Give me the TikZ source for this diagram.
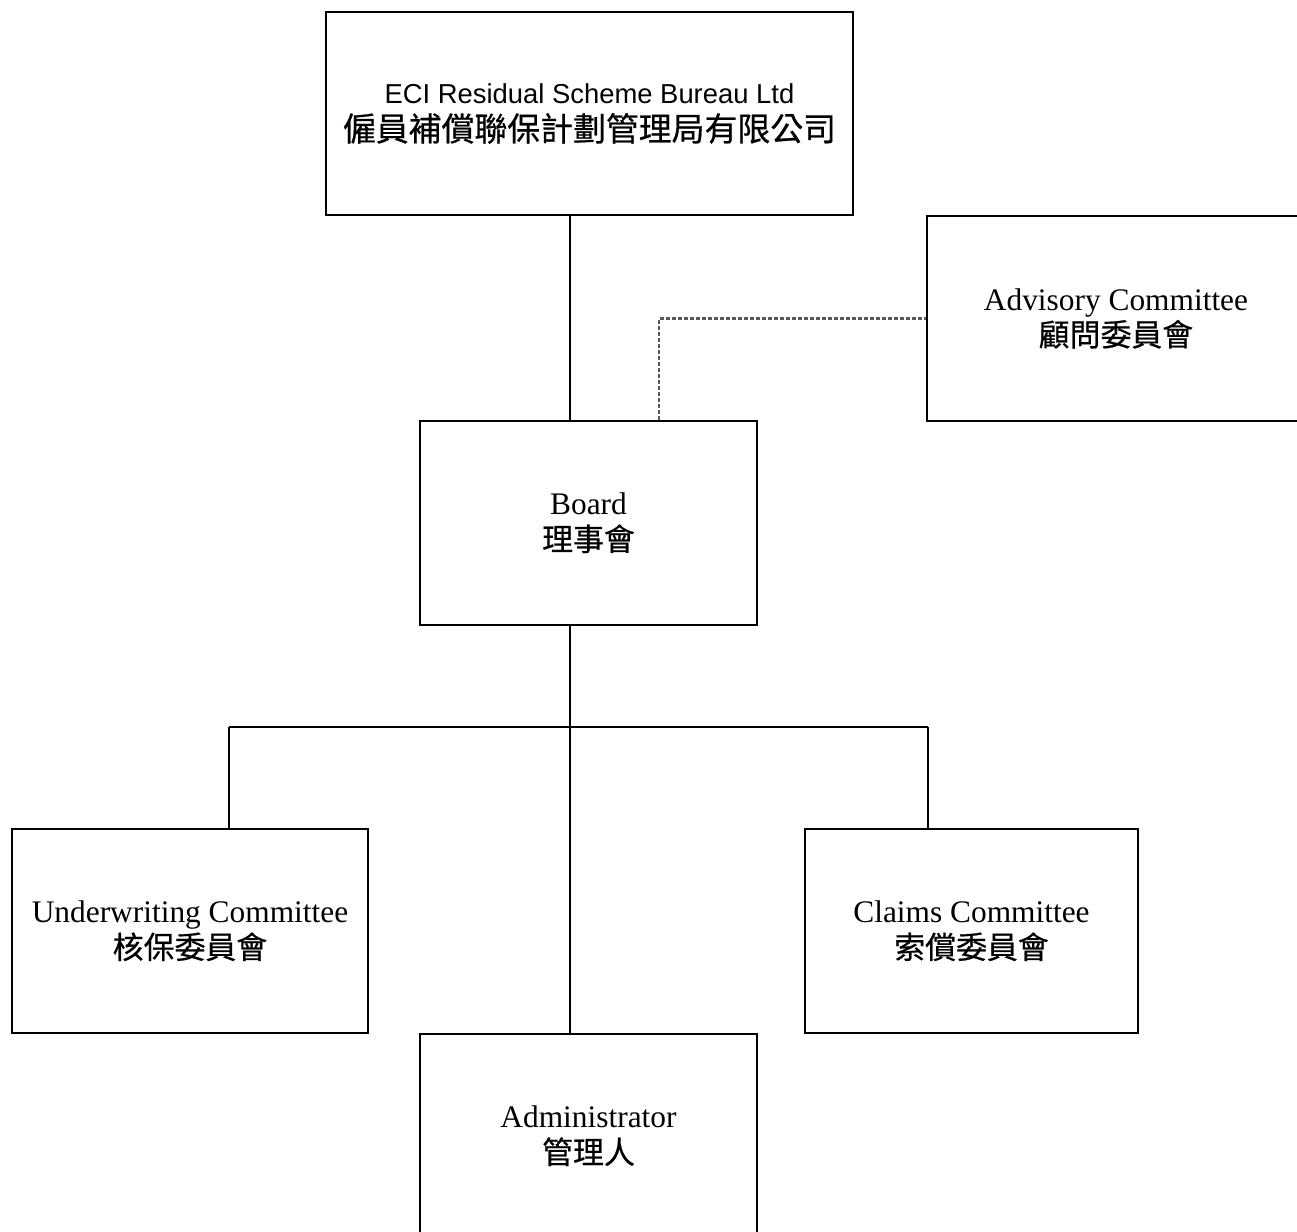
\documentclass[tikz,border=0pt]{standalone}
\usepackage{fontspec}
\setmainfont{Liberation Serif}
\newfontfamily\cjk[FakeBold=0.6]{Noto Sans CJK TC}
\newfontfamily\arialf{Liberation Sans}
\begin{document}
\begin{tikzpicture}[x=1bp,y=-1bp,
  box/.style={draw, line width=2.5bp, rectangle, inner sep=0pt, align=center,
    font=\fontsize{31.5}{39}\selectfont},
  link/.style={line width=2.5bp},
  dashlink/.style={line width=2.5bp, draw=black!65, dash pattern=on 4bp off 2bp}]
\useasboundingbox (0,0) rectangle (1297,1232);
\node[box, minimum width=527bp, minimum height=203bp] (eci) at (589.5,113.5)
  {{\arialf\fontsize{27.5}{36}\selectfont ECI Residual Scheme Bureau Ltd}\\[-1bp]
   {\cjk\fontsize{33}{36}\selectfont 僱員補償聯保計劃管理局有限公司}};
\node[box, minimum width=378bp, minimum height=205bp] (adv) at (1116,318.5)
  {Advisory Committee\\[-3bp]{\cjk\fontsize{31}{39}\selectfont 顧問委員會}};
\node[box, minimum width=337bp, minimum height=204bp] (board) at (588.5,523)
  {Board\\[-3bp]{\cjk\fontsize{31}{39}\selectfont 理事會}};
\node[box, minimum width=356bp, minimum height=204bp] (uw) at (190,931)
  {Underwriting Committee\\[-3bp]{\cjk\fontsize{31}{39}\selectfont 核保委員會}};
\node[box, minimum width=333bp, minimum height=204bp] (claims) at (971.5,931)
  {Claims Committee\\[-3bp]{\cjk\fontsize{31}{39}\selectfont 索償委員會}};
\node[box, minimum width=337bp, minimum height=204bp] (admin) at (588.5,1136)
  {Administrator\\[-3bp]{\cjk\fontsize{31}{39}\selectfont 管理人}};
\coordinate (busL) at (229,727);
\coordinate (busC) at (570,727);
\coordinate (busR) at (928,727);
\coordinate (dk) at (659,318.5);
\draw[link] (eci.south -| busC) -- (board.north -| busC);
\draw[link] (board.south -| busC) -- (admin.north -| busC);
\draw[link] (busL) -- (busR);
\draw[link] (uw.north -| busL) -- (busL);
\draw[link] (claims.north -| busR) -- (busR);
\draw[dashlink] (board.north -| dk) -- (dk) -- (adv.west);
\end{tikzpicture}
\end{document}
